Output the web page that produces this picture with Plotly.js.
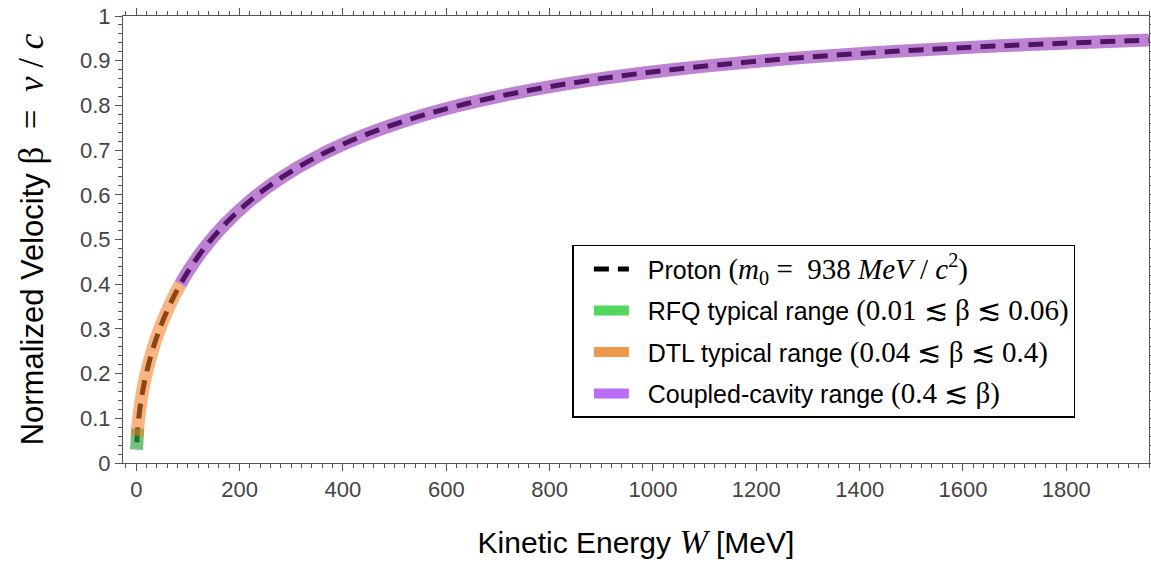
<!DOCTYPE html>
<html>
<head>
<meta charset="utf-8">
<script src="https://cdn.plot.ly/plotly-3.0.1.min.js"></script>
<style>html,body{margin:0;padding:0;background:#fff;}#chart{width:1151px;height:563px;}</style>
</head>
<body>
<div id="chart"></div>
<script>
// Proton curve: kinetic energy W [MeV] vs beta
const protonW    = [1, 2, 3.5, 5, 7.5, 10, 14, 20, 30, 40, 50, 70, 85.4, 100, 130, 170, 220, 280, 350, 430, 520, 620, 740, 880, 1040, 1220, 1420, 1640, 1960];
const protonBeta = [0.0461, 0.0652, 0.0861, 0.1028, 0.1257, 0.1449, 0.1709, 0.2033, 0.2470, 0.2831, 0.3141, 0.3662, 0.3999, 0.4283, 0.4782, 0.5323, 0.5864, 0.6379, 0.6853, 0.7279, 0.7656, 0.7985, 0.8292, 0.8566, 0.8804, 0.9006, 0.9175, 0.9315, 0.9462];

// RFQ band
const rfqW    = [0.42, 1, 2, 2.8];
const rfqBeta = [0.030, 0.0461, 0.0652, 0.077];

// DTL band
const dtlW    = [1.75, 2, 3.5, 5, 7.5, 10, 14, 20, 30, 40, 50, 70, 85.4];
const dtlBeta = [0.061, 0.0652, 0.0861, 0.1028, 0.1257, 0.1449, 0.1709, 0.2033, 0.2470, 0.2831, 0.3141, 0.3662, 0.3999];

// Coupled-cavity band
const ccW    = [85.4, 100, 130, 170, 220, 280, 350, 430, 520, 620, 740, 880, 1040, 1220, 1420, 1640, 1960];
const ccBeta = [0.3999, 0.4283, 0.4782, 0.5323, 0.5864, 0.6379, 0.6853, 0.7279, 0.7656, 0.7985, 0.8292, 0.8566, 0.8804, 0.9006, 0.9175, 0.9315, 0.9462];

const xTickVals = [0, 200, 400, 600, 800, 1000, 1200, 1400, 1600, 1800];
const yTickVals = [0, 0.1, 0.2, 0.3, 0.4, 0.5, 0.6, 0.7, 0.8, 0.9, 1];
const yTickText = ['0', '0.1', '0.2', '0.3', '0.4', '0.5', '0.6', '0.7', '0.8', '0.9', '1'];

const SERIF = 'Liberation Serif, DejaVu Serif, serif';
const sp = (s, size) => '<span style="font-family:' + SERIF + ';font-size:' + size + 'px">' + s + '</span>';
const NB = '\u00A0\u00A0';

// legend swatch colours (solid) and band colours drawn translucently on the plot
const legGreen = 'rgb(85,214,92)', legOrange = 'rgb(237,153,77)', legPurple = 'rgb(185,110,245)';
const bandGreen = 'rgba(50,165,64,0.68)', bandOrange = 'rgba(245,123,35,0.57)', bandPurple = 'rgba(140,35,178,0.57)';
const BAND_W = 13;
const LEG_MATH = 29;

const traces = [
  {x: protonW, y: protonBeta, mode: 'lines', line: {color: 'black', width: 5, dash: '15px,9px', shape: 'spline'},
   name: NB + 'Proton ' + sp('(<i>m</i><sub>0</sub> =  938 <i>MeV</i> / <i>c</i><sup>2</sup>)', LEG_MATH), legendgroup: 'a', hoverinfo: 'skip'},
  {x: rfqW, y: rfqBeta, mode: 'lines', line: {color: bandGreen, width: BAND_W}, showlegend: false, legendgroup: 'b', hoverinfo: 'skip'},
  {x: dtlW, y: dtlBeta, mode: 'lines', line: {color: bandOrange, width: BAND_W, shape: 'spline'}, showlegend: false, legendgroup: 'c', hoverinfo: 'skip'},
  {x: ccW, y: ccBeta, mode: 'lines', line: {color: bandPurple, width: BAND_W, shape: 'spline'}, showlegend: false, legendgroup: 'd', hoverinfo: 'skip'},
  {x: [null], y: [null], mode: 'lines', line: {color: legGreen, width: BAND_W}, legendgroup: 'b',
   name: NB + 'RFQ typical range ' + sp('(0.01 ≲ β ≲ 0.06)', LEG_MATH)},
  {x: [null], y: [null], mode: 'lines', line: {color: legOrange, width: BAND_W}, legendgroup: 'c',
   name: NB + 'DTL typical range ' + sp('(0.04 ≲ β ≲ 0.4)', LEG_MATH)},
  {x: [null], y: [null], mode: 'lines', line: {color: legPurple, width: BAND_W}, legendgroup: 'd',
   name: NB + 'Coupled-cavity range ' + sp('(0.4 ≲ β)', LEG_MATH)}
];

const axisCommon = {
  showgrid: false, zeroline: false, showline: true, linecolor: '#555', linewidth: 1,
  mirror: 'allticks', ticks: 'outside', ticklen: 7, tickwidth: 1, tickcolor: '#555',
  tickfont: {family: 'Liberation Sans, Arial, sans-serif', size: 22, color: '#444'},
  automargin: false
};

const layout = {
  width: 1151, height: 563,
  margin: {l: 123, r: 2, t: 16, b: 100},
  paper_bgcolor: '#fff', plot_bgcolor: '#fff',
  font: {family: 'Liberation Sans, Arial, sans-serif', color: '#000'},
  xaxis: Object.assign({}, axisCommon, {
    range: [-25.7, 1960], tickvals: xTickVals,
    minor: {dtick: 20, tick0: 0, ticks: 'outside', ticklen: 4, tickcolor: '#555', tickwidth: 1},
    title: {text: 'Kinetic Energy ' + sp('<i>W</i>', 34) + ' [MeV]\u2003', font: {size: 30, color: '#000'}, standoff: 30}
  }),
  yaxis: Object.assign({}, axisCommon, {
    range: [0, 1], tickvals: yTickVals, ticktext: yTickText,
    minor: {dtick: 0.02, tick0: 0, ticks: 'outside', ticklen: 4, tickcolor: '#555', tickwidth: 1},
    title: {text: 'Normalized Velocity ' + sp('β  =  <i>v</i> / <i>c</i>', 35), font: {size: 31, color: '#000'}, standoff: 27}
  }),
  legend: {
    x: 0.438, y: 0.488, xanchor: 'left', yanchor: 'top',
    bgcolor: '#fff', bordercolor: '#000', borderwidth: 1.5,
    font: {family: 'Liberation Sans, Arial, sans-serif', size: 25, color: '#000'},
    traceorder: 'grouped', tracegroupgap: 6, itemwidth: 35, indentation: 15
  },
  showlegend: true
};

Plotly.newPlot('chart', traces, layout, {staticPlot: true, displayModeBar: false});
</script>
</body>
</html>
